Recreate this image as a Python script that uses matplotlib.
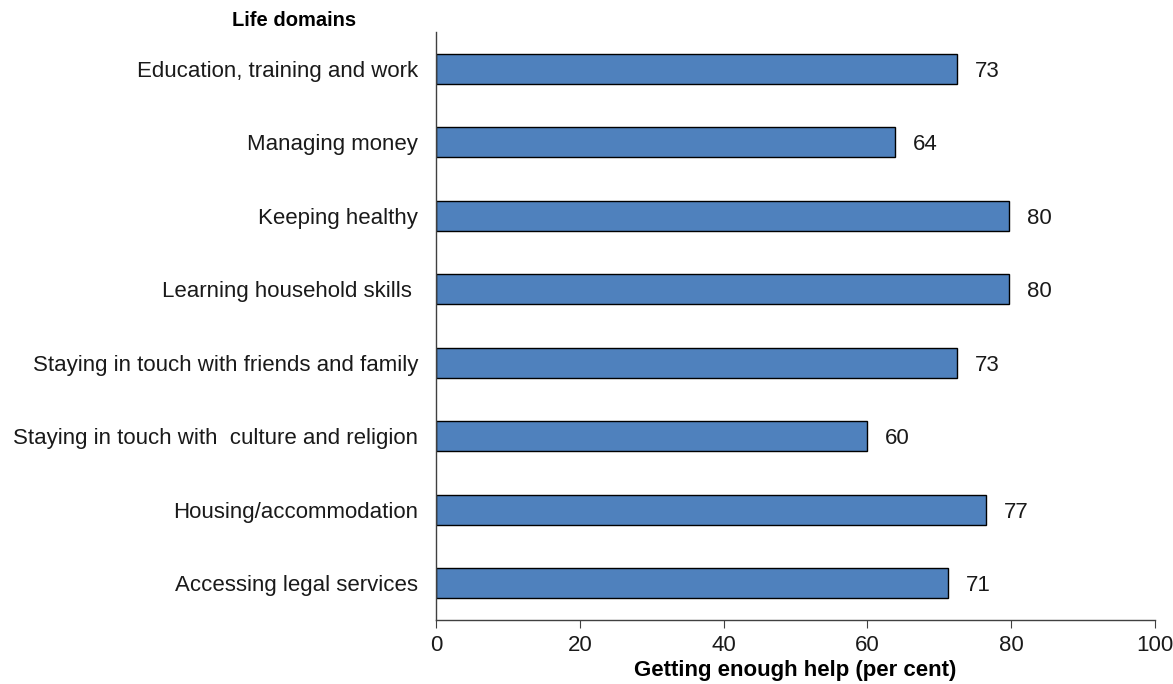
import matplotlib as mpl
import matplotlib.pyplot as plt

mpl.rcParams['font.family'] = ['Liberation Sans', 'DejaVu Sans']

domains = ['Education, training and work', 'Managing money', 'Keeping healthy',
           'Learning household skills ', 'Staying in touch with friends and family',
           'Staying in touch with  culture and religion', 'Housing/accommodation',
           'Accessing legal services']
# bar lengths as drawn, and the rounded labels printed beside them
values = [72.4, 63.8, 79.7, 79.7, 72.4, 59.9, 76.5, 71.2]
value_labels = ['73', '64', '80', '80', '73', '60', '77', '71']
xticks = [0, 20, 40, 60, 80, 100]

bar_color = '#4F81BD'
axis_color = '#404040'
txt_color = '#1a1a1a'

fig = plt.figure(figsize=(11.73, 6.84), dpi=100)
ax = fig.add_axes([0.3717, 0.0936, 0.613, 0.8596])

ypos = list(range(len(domains)))
ax.barh(ypos, values, height=0.41, color=bar_color, edgecolor='black', linewidth=1)
for y, v, lab in zip(ypos, values, value_labels):
    ax.annotate(lab, (v, y), xytext=(13, 0), textcoords='offset points',
                ha='left', va='center_baseline', fontsize=16, color=txt_color)

ax.set_xlim(0, 100)
ax.set_ylim(len(domains) - 0.5, -0.5)
ax.set_xticks(xticks)
ax.set_yticks(ypos)
ax.set_yticklabels(domains)
ax.tick_params(axis='y', length=0, pad=13, labelsize=16, labelcolor=txt_color)
ax.tick_params(axis='x', length=6, direction='out', color=axis_color, pad=5,
               labelsize=16, labelcolor=txt_color)

for s in ['top', 'right']:
    ax.spines[s].set_visible(False)
for s in ['left', 'bottom']:
    ax.spines[s].set_color(axis_color)
    ax.spines[s].set_linewidth(1)

ax.set_xlabel('Getting enough help (per cent)', fontsize=16, fontweight='bold', labelpad=3)
fig.text(0.198, 0.97, 'Life domains', fontsize=14.5, fontweight='bold', ha='left', va='center')

fig.savefig('out.png', dpi=100)
